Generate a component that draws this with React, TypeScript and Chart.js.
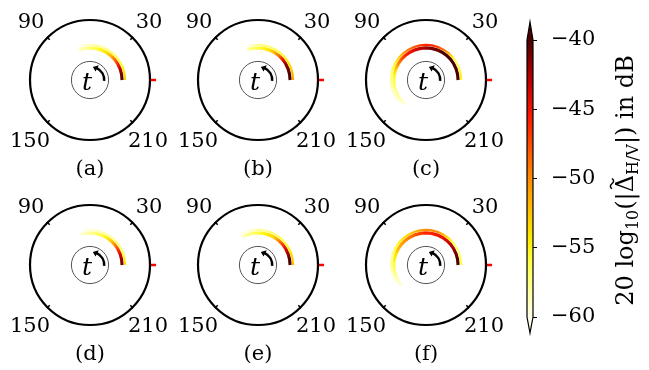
import React, { useEffect, useRef } from "react";
import { Chart, registerables } from "chart.js";
Chart.register(...registerables);

// ---------------- data ----------------
const ANGLES = [0, 10, 20, 30, 40, 50, 60, 70, 80, 90, 100, 110, 120, 130, 140, 150, 160, 170, 180, 190, 200, 210, 220, 230];
const ANGLE_TICKS = [45, 135, 225, 315];
const ANGLE_TICK_LABELS = ["30", "90", "150", "210"];
const CAPTIONS = ["(a)", "(b)", "(c)", "(d)", "(e)", "(f)"];

// dB values along the inner (dark) and outer (light) ridge of the arc
const A_INNER = [-40, -41, -43, -46, -49, -52, -54, -55, -56, -57, -58, -59.5];
const A_OUTER = [-53, -54, -55, -56, -56, -57, -57, -58, -58, -59, -59.5, -60];
const B_INNER = [-40, -40, -41, -42, -45, -49, -52, -54, -55, -56, -57, -59];
const B_OUTER = [-51, -52, -53, -54, -55, -56, -56, -57, -57, -58, -59, -60];
const C_INNER = [-40, -40, -40, -40, -40, -40, -40, -41, -41, -42, -43, -44, -45, -46, -48, -50, -53, -55, -56, -57, -58, -58, -59, -59.5];
const C_OUTER = [-55, -55, -56, -57, -55, -51, -49, -47, -46, -46, -47, -48, -49, -51, -53, -55, -56, -57, -58, -58, -59, -59.5, -60];
const D_INNER = [-41, -42, -44, -47, -50, -53, -55, -56, -57, -58, -59, -60];
const D_OUTER = [-54, -55, -56, -57, -57, -58, -58, -59, -59, -59.5, -60];
const E_INNER = [-40, -40, -42, -44, -47, -50, -53, -54, -55, -56, -57, -58, -59.5];
const E_OUTER = [-52, -53, -54, -55, -56, -56, -57, -57, -58, -58, -59, -59.5, -60];
const F_INNER = [-40, -40, -41, -42, -43, -44, -45, -45, -46, -46, -47, -48, -49, -50, -51, -52, -54, -55, -56, -57, -58, -59, -59.5];
const F_OUTER = [-56, -56, -57, -57, -56, -54, -52, -50, -50, -50, -51, -52, -53, -54, -55, -56, -57, -58, -58, -59, -59.5, -60];

const PANEL_INNER = [A_INNER, B_INNER, C_INNER, D_INNER, E_INNER, F_INNER];
const PANEL_OUTER = [A_OUTER, B_OUTER, C_OUTER, D_OUTER, E_OUTER, F_OUTER];

const CBAR_MIN = -60;
const CBAR_MAX = -40;
const CBAR_STEP = 5;

// ---------------- style ----------------
const SERIF = "'DejaVu Serif', serif";
const CMAP_STOPS: [number, number[]][] = [
  [0, [255, 255, 235]],
  [0.2, [255, 255, 70]],
  [0.28, [255, 238, 0]],
  [0.5, [255, 140, 0]],
  [0.72, [255, 25, 0]],
  [0.86, [185, 0, 0]],
  [1, [75, 0, 0]],
];
function cmap(db: number): string {
  let t = (db - CBAR_MIN) / (CBAR_MAX - CBAR_MIN);
  t = Math.max(0, Math.min(1, t));
  for (let i = 1; i < CMAP_STOPS.length; i++) {
    const [t1, c1] = CMAP_STOPS[i];
    const [t0, c0] = CMAP_STOPS[i - 1];
    if (t <= t1) {
      const f = (t - t0) / (t1 - t0);
      const c = c0.map((v, k) => Math.round(v + (c1[k] - v) * f));
      return `rgb(${c[0]},${c[1]},${c[2]})`;
    }
  }
  const c = CMAP_STOPS[CMAP_STOPS.length - 1][1];
  return `rgb(${c[0]},${c[1]},${c[2]})`;
}

const R_INNER = 0.535;
const R_OUTER = 0.585;
const PANEL_W = 168;
const PANEL_H = 186;
const CX_IN_CANVAS = 84;
const CY_IN_CANVAS = 80;
const PANEL_CENTERS = [
  [90, 80], [258, 80], [426, 80],
  [90, 265], [258, 265], [426, 265],
];

function arcPoints(vals: (number | null)[], r: number) {
  const pts: any[] = [];
  vals.forEach((v, i) => {
    if (v == null) return;
    const a = (ANGLES[i] * Math.PI) / 180;
    pts.push({ x: r * Math.cos(a), y: r * Math.sin(a), v });
  });
  return pts;
}

function conicColor(vals: (number | null)[]) {
  return (ctx: any) => {
    const chart = ctx.chart;
    if (!chart.chartArea) return "#000";
    const xs = chart.scales.x, ys = chart.scales.y;
    const cx = xs.getPixelForValue(0), cy = ys.getPixelForValue(0);
    const start = (5 * Math.PI) / 180;
    const g = chart.ctx.createConicGradient(start, cx, cy);
    vals.forEach((v, i) => {
      if (v == null) return;
      const off = (355 - ANGLES[i]) / 360;
      if (off >= 0 && off <= 1) g.addColorStop(off, cmap(v));
    });
    return g;
  };
}

const polarDecor = {
  id: "polarDecor",
  afterDraw(chart: any) {
    const ctx = chart.ctx;
    const xs = chart.scales.x, ys = chart.scales.y;
    const cx = xs.getPixelForValue(0), cy = ys.getPixelForValue(0);
    const u = xs.getPixelForValue(1) - cx;
    const caption = chart.options.plugins.polarDecor.caption;
    ctx.save();
    // outer circle
    ctx.strokeStyle = "#000";
    ctx.lineWidth = 2.2;
    ctx.beginPath();
    ctx.arc(cx, cy, u, 0, Math.PI * 2);
    ctx.stroke();
    // angular ticks
    ctx.lineWidth = 1.5;
    ANGLE_TICKS.forEach((deg) => {
      const a = (deg * Math.PI) / 180;
      ctx.beginPath();
      ctx.moveTo(cx + Math.cos(a) * (u - 3), cy - Math.sin(a) * (u - 3));
      ctx.lineTo(cx + Math.cos(a) * (u + 1), cy - Math.sin(a) * (u + 1));
      ctx.stroke();
    });
    // red marker at 0 deg
    ctx.strokeStyle = "#ff0000";
    ctx.lineWidth = 2.5;
    ctx.beginPath();
    ctx.moveTo(cx + u + 1, cy);
    ctx.lineTo(cx + u + 6, cy);
    ctx.stroke();
    // inner circle
    ctx.strokeStyle = "#555";
    ctx.lineWidth = 1;
    ctx.beginPath();
    ctx.arc(cx, cy, 0.31 * u, 0, Math.PI * 2);
    ctx.stroke();
    // rotation arrow
    const ar = 0.22 * u;
    ctx.strokeStyle = "#000";
    ctx.lineWidth = 2.5;
    ctx.beginPath();
    ctx.arc(cx + 1, cy, ar, (4 * Math.PI) / 180, (-64 * Math.PI) / 180, true);
    ctx.stroke();
    const tipA = (82 * Math.PI) / 180, baseA = (62 * Math.PI) / 180;
    ctx.fillStyle = "#000";
    ctx.beginPath();
    ctx.moveTo(cx + 1 + Math.cos(tipA) * ar, cy - Math.sin(tipA) * ar);
    ctx.lineTo(cx + 1 + Math.cos(baseA) * (ar + 3.5), cy - Math.sin(baseA) * (ar + 3.5));
    ctx.lineTo(cx + 1 + Math.cos(baseA) * (ar - 3.5), cy - Math.sin(baseA) * (ar - 3.5));
    ctx.closePath();
    ctx.fill();
    // t
    ctx.fillStyle = "#000";
    ctx.font = `italic 25px ${SERIF}`;
    ctx.textAlign = "center";
    ctx.textBaseline = "alphabetic";
    ctx.fillText("t", cx - 3, cy + 10);
    // angle labels
    ctx.font = `21px ${SERIF}`;
    const pos = [[59, -52], [-59, -52], [-60, 67], [58, 67]];
    ANGLE_TICK_LABELS.forEach((lab, i) => {
      ctx.fillText(lab, cx + pos[i][0], cy + pos[i][1]);
    });
    ctx.fillText(caption, cx, cy + 95);
    ctx.restore();
  },
};

function Panel({ index }: { index: number }) {
  const ref = useRef<HTMLCanvasElement>(null);
  useEffect(() => {
    const inner = PANEL_INNER[index];
    const outer = PANEL_OUTER[index];
    const mk = (vals: (number | null)[], r: number, w: number) => ({
      data: arcPoints(vals, r),
      showLine: true,
      pointRadius: 0,
      borderWidth: w,
      borderCapStyle: "butt",
      borderColor: conicColor(vals),
    });
    const chart = new Chart(ref.current!, {
      type: "scatter",
      data: { datasets: [mk(outer, R_OUTER, 2.2), mk(inner, R_INNER, 3.2)] as any },
      options: {
        responsive: false,
        animation: false,
        events: [],
        layout: { padding: { left: CX_IN_CANVAS - 72, right: PANEL_W - CX_IN_CANVAS - 72, top: CY_IN_CANVAS - 72, bottom: PANEL_H - CY_IN_CANVAS - 72 } },
        scales: {
          x: { type: "linear", min: -1.2, max: 1.2, display: false },
          y: { type: "linear", min: -1.2, max: 1.2, display: false },
        },
        plugins: {
          legend: { display: false },
          tooltip: { enabled: false },
          polarDecor: { caption: CAPTIONS[index] },
        } as any,
      },
      plugins: [polarDecor],
    });
    return () => chart.destroy();
  }, [index]);
  const [cx, cy] = PANEL_CENTERS[index];
  return (
    <canvas
      ref={ref}
      width={PANEL_W}
      height={PANEL_H}
      style={{ position: "absolute", left: cx - CX_IN_CANVAS, top: cy - CY_IN_CANVAS, width: PANEL_W, height: PANEL_H }}
    />
  );
}

const cbarDecor = {
  id: "cbarDecor",
  afterDatasetsDraw(chart: any) {
    const ctx = chart.ctx;
    const ca = chart.chartArea;
    const ys = chart.scales.y;
    const top = ys.getPixelForValue(CBAR_MAX);
    const bot = ys.getPixelForValue(CBAR_MIN);
    const l = ca.left, r = ca.right, m = (l + r) / 2;
    ctx.save();
    // extension triangles
    ctx.fillStyle = cmap(CBAR_MAX + 1);
    ctx.beginPath();
    ctx.moveTo(l, top); ctx.lineTo(m, top - 18); ctx.lineTo(r, top); ctx.closePath(); ctx.fill();
    ctx.fillStyle = cmap(CBAR_MIN - 1);
    ctx.beginPath();
    ctx.moveTo(l, bot); ctx.lineTo(m, bot + 16); ctx.lineTo(r, bot); ctx.closePath(); ctx.fill();
    // outline
    ctx.strokeStyle = "#000";
    ctx.lineWidth = 1.2;
    ctx.beginPath();
    ctx.moveTo(l, bot); ctx.lineTo(l, top); ctx.lineTo(m, top - 18); ctx.lineTo(r, top);
    ctx.lineTo(r, bot); ctx.lineTo(m, bot + 16); ctx.closePath();
    ctx.stroke();
    // title (rotated, reads bottom to top)
    const fs = 24, sfs = 16;
    const parts: [string, number, number][] = [
      ["20 log", fs, 0], ["10", sfs, 5], ["(|", fs, 0], ["\u0394", fs, 0], ["H/V", sfs, 5], ["|) in dB", fs, 0],
    ];
    const widths = parts.map(([s, f]) => { ctx.font = `${f}px ${SERIF}`; return ctx.measureText(s).width; });
    const total = widths.reduce((a, b) => a + b, 0);
    ctx.translate(ca.right + 100, (top + bot) / 2 + 2);
    ctx.rotate(-Math.PI / 2);
    ctx.fillStyle = "#000";
    ctx.strokeStyle = "#000";
    ctx.textAlign = "left";
    ctx.textBaseline = "alphabetic";
    let x = -total / 2;
    parts.forEach(([s, f, dy], i) => {
      ctx.font = `${f}px ${SERIF}`;
      ctx.fillText(s, x, dy);
      if (s === "\u0394") {
        // tilde accent drawn as a small wave above the glyph
        const w = widths[i] * 0.6;
        const x0 = x + (widths[i] - w) / 2;
        const yc = -21;
        ctx.lineWidth = 1.4;
        ctx.beginPath();
        for (let k = 0; k <= 12; k++) {
          const px = x0 + (w * k) / 12;
          const py = yc - 1.6 * Math.sin((k / 12) * Math.PI * 2);
          if (k === 0) ctx.moveTo(px, py); else ctx.lineTo(px, py);
        }
        ctx.stroke();
      }
      x += widths[i];
    });
    ctx.restore();
  },
};

function ColorBar() {
  const ref = useRef<HTMLCanvasElement>(null);
  useEffect(() => {
    const chart = new Chart(ref.current!, {
      type: "bar",
      data: {
        labels: [""],
        datasets: [
          {
            data: [[CBAR_MIN, CBAR_MAX]] as any,
            barPercentage: 1,
            categoryPercentage: 1,
            borderWidth: 0,
            backgroundColor: (ctx: any) => {
              const c = ctx.chart;
              if (!c.chartArea) return "#fff";
              const ys = c.scales.y;
              const g = c.ctx.createLinearGradient(0, ys.getPixelForValue(CBAR_MIN), 0, ys.getPixelForValue(CBAR_MAX));
              for (let i = 0; i <= 40; i++) {
                g.addColorStop(i / 40, cmap(CBAR_MIN + ((CBAR_MAX - CBAR_MIN) * i) / 40));
              }
              return g;
            },
          },
        ],
      },
      options: {
        responsive: false,
        animation: false,
        events: [],
        layout: { padding: { left: 17, right: 0, top: 40, bottom: 53 } },
        scales: {
          x: { display: false },
          y: {
            position: "right",
            min: CBAR_MIN,
            max: CBAR_MAX,
            ticks: {
              stepSize: CBAR_STEP,
              color: "#000",
              padding: 14,
              font: { family: SERIF, size: 21 },
              callback: (v: any) => (v < 0 ? "\u2212" + Math.abs(v) : String(v)),
            },
            grid: { drawOnChartArea: false, drawTicks: true, tickLength: 4, color: "#000", lineWidth: 1 },
            border: { display: false },
            afterFit: (s: any) => { s.width = 116; },
          } as any,
        },
        plugins: { legend: { display: false }, tooltip: { enabled: false } },
      },
      plugins: [cbarDecor],
    });
    return () => chart.destroy();
  }, []);
  return (
    <canvas ref={ref} width={139} height={370} style={{ position: "absolute", left: 510, top: 0, width: 139, height: 370 }} />
  );
}

export default function App() {
  return (
    <div style={{ position: "fixed", left: 0, top: 0, width: 649, height: 370, background: "#fff", overflow: "hidden" }}>
      {[0, 1, 2, 3, 4, 5].map((i) => (
        <Panel key={i} index={i} />
      ))}
      <ColorBar />
    </div>
  );
}
